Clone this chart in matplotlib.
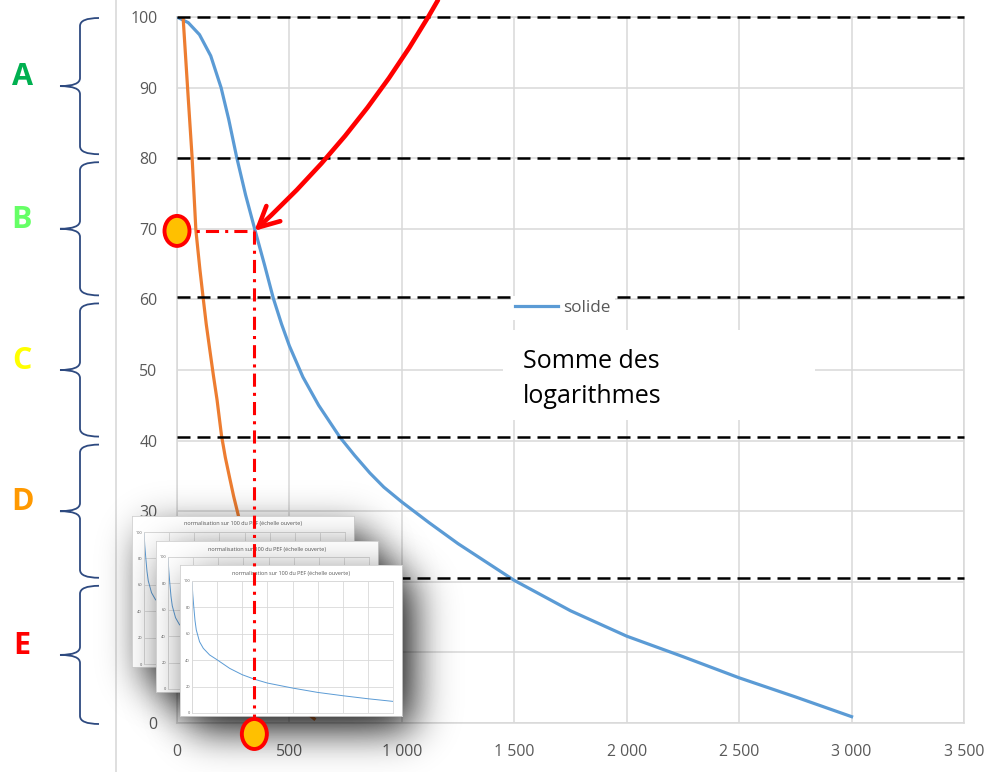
import numpy as np
import matplotlib
matplotlib.use("Agg")
import matplotlib.pyplot as plt
from matplotlib.patches import Rectangle, Ellipse, PathPatch
from matplotlib.path import Path
from matplotlib.lines import Line2D

plt.rcParams['font.family'] = ['Open Sans', 'DejaVu Sans']

# ---------------- data ----------------
x_ticks = [0, 500, 1000, 1500, 2000, 2500, 3000, 3500]
x_tick_labels = ["0", "500", "1 000", "1 500", "2 000", "2 500", "3 000", "3 500"]
y_ticks = [0, 10, 20, 30, 40, 50, 60, 70, 80, 90, 100]

solide_x = [0, 50, 100, 150, 196, 230, 265, 305, 347, 390, 428, 465, 500, 560, 630, 724,
            790, 858, 920, 1000, 1120, 1250, 1500, 1750, 2000, 2250, 2500, 2750, 3000]
solide_y = [100, 99.2, 97.5, 94.5, 90, 85.5, 80.2, 74.8, 69.8, 64.8, 60.2, 56.5, 53.4, 49.0,
            45.0, 40.5, 37.9, 35.4, 33.4, 31.3, 28.4, 25.4, 20.2, 15.9, 12.3, 9.4, 6.4, 3.7, 0.9]

second_x = [27, 50, 67, 84, 102, 116, 130, 147, 162, 178, 198, 215, 235, 252, 272, 320,
            380, 450, 520, 560, 610]
second_y = [100, 88.5, 80.2, 69.8, 64.2, 60.3, 56.5, 52.6, 49.2, 45.8, 40.7, 37.6, 34.6,
            32.1, 29.5, 22.5, 15.5, 8.8, 4.2, 1.9, 0.6]

threshold_lines = [100, 80, 60.4, 40.45, 20.6]
zone_bounds = [100, 80, 60, 40, 20, 0]
zone_labels = ["A", "B", "C", "D", "E"]
zone_colors = ["#00B050", "#66FF66", "#FFFF00", "#FF9900", "#FF0000"]

read_x = 344
read_y = 69.7

inset_x = [0, 0.03, 0.07, 0.12, 0.17, 0.3, 0.45, 0.7, 1, 1.5, 2, 2.5, 3, 4, 5, 6, 7, 8]
inset_y = [100, 90, 80.6, 70, 63, 54, 49, 44, 40.3, 33.8, 29, 25.5, 22.7, 18.9, 15.6, 13.1,
           10.8, 8.8]
inset_title = "normalisation sur 100 du PEF (échelle ouverte)"

legend_label = "solide"
box_lines = ["Somme des", "logarithmes"]

# ---------------- layout ----------------
W, H = 989, 772
fig = plt.figure(figsize=(W / 100, H / 100), dpi=100)
fig.patch.set_facecolor("white")

def fx(px):
    return px / W

def fy(py):
    return 1 - py / H

AX_L, AX_R, AX_T, AX_B = 177, 964, 17, 723
XMAX, YMAX = 3500, 100
def ypx(v):
    return AX_B - v * (AX_B - AX_T) / YMAX
def dx_from_px(p):
    return p * XMAX / (AX_R - AX_L)
def dy_from_px(p):
    return p * YMAX / (AX_B - AX_T)

BLUE = "#5B9BD5"
ORANGE = "#ED7D31"
GRID = "#D9D9D9"
TXT = "#595959"
RED = "#FF0000"

ax = fig.add_axes([fx(AX_L), fy(AX_B), (AX_R - AX_L) / W, (AX_B - AX_T) / H])
ax.set_xlim(0, XMAX)
ax.set_ylim(0, YMAX)
ax.set_xticks(x_ticks)
ax.set_xticklabels(x_tick_labels)
ax.set_yticks(y_ticks)
ax.grid(True, color=GRID, lw=1.1)
ax.set_axisbelow(True)
for s in ax.spines.values():
    s.set_color(GRID)
    s.set_linewidth(1.1)
ax.tick_params(length=0, labelsize=11.4, labelcolor=TXT)
ax.tick_params(axis="y", pad=14)
ax.tick_params(axis="x", pad=15)

l_solide, = ax.plot(solide_x, solide_y, color=BLUE, lw=2.3, zorder=3)
ax.plot(second_x, second_y, color=ORANGE, lw=2.3, zorder=4)

for t in threshold_lines:
    ax.axhline(t, color="black", lw=1.8, dashes=(5.2, 2.8), zorder=5, clip_on=False)

ax.legend([l_solide], [legend_label], loc="center left",
          bbox_to_anchor=(fx(511), fy(308)), bbox_transform=fig.transFigure,
          frameon=True, fancybox=False, facecolor="white", edgecolor="none",
          framealpha=1, borderpad=0.25, borderaxespad=0, handlelength=2.5,
          handletextpad=0.3, fontsize=12.3, labelcolor=TXT)

# white text box
bx0, bx1 = dx_from_px(503 - AX_L), dx_from_px(815 - AX_L)
by0, by1 = dy_from_px(AX_B - 420), dy_from_px(AX_B - 330)
ax.add_patch(Rectangle((bx0, by0), bx1 - bx0, by1 - by0, facecolor="white",
                       edgecolor="none", zorder=2.5))
tx = dx_from_px(523 - AX_L)
for i, line in enumerate(box_lines):
    base_py = 368 + i * 34.7
    ax.text(tx, dy_from_px(AX_B - base_py), line, fontsize=18, color="black",
            va="baseline", ha="left", zorder=6)

# ---------------- decorations (braces, letters, outer border) ----------------
deco = fig.add_axes([0, 0, 1, 1], zorder=-1)
deco.set_xlim(0, W)
deco.set_ylim(H, 0)
deco.axis("off")
deco.add_line(Line2D([116, 116], [0, H], color=GRID, lw=1.2))

def brace(y0, y1, x_end=99, x_v=80, x_tip=60, r=8):
    ym = (y0 + y1) / 2
    verts = [(x_end, y0), (x_v, y0), (x_v, y0 + r),
             (x_v, ym - r), (x_v, ym), (x_tip, ym),
             (x_v, ym), (x_v, ym + r),
             (x_v, y1 - r), (x_v, y1), (x_end, y1)]
    codes = [Path.MOVETO, Path.CURVE3, Path.CURVE3,
             Path.LINETO, Path.CURVE3, Path.CURVE3,
             Path.CURVE3, Path.CURVE3,
             Path.LINETO, Path.CURVE3, Path.CURVE3]
    deco.add_patch(PathPatch(Path(verts, codes), facecolor="none",
                             edgecolor="#2E4A80", lw=1.3))
    return ym

for i, lab in enumerate(zone_labels):
    top = ypx(zone_bounds[i]) + (1 if i == 0 else 4)
    bot = ypx(zone_bounds[i + 1]) + (1 if i == len(zone_labels) - 1 else -4)
    ym = brace(top, bot)
    deco.text(22, ym - 9, lab, color=zone_colors[i], fontsize=22, fontweight="bold",
              ha="center", va="center")

# ---------------- insets with soft shadows ----------------
IN_W, IN_H = 222, 151
inset_origins = [(132, 516), (156, 541), (180, 565)]

def gauss_mat(n, sigma):
    idx = np.arange(n)
    K = np.exp(-0.5 * ((idx[:, None] - idx[None, :]) / sigma) ** 2)
    return K / (sigma * np.sqrt(2 * np.pi))

SH_OFF = (12, 15)
SH_SIG = 20
SH_A = 0.78
zbase = 5
for k, (l, t) in enumerate(inset_origins):
    r, b = l + IN_W, t + IN_H
    X0, X1 = l - 80, r + 110
    Y0, Y1 = t - 80, b + 110
    nx, ny = X1 - X0, Y1 - Y0
    xs = np.arange(X0, X1) + 0.5
    ys = np.arange(Y0, Y1) + 0.5
    mx = ((xs >= l + SH_OFF[0]) & (xs < r + SH_OFF[0])).astype(float)
    my = ((ys >= t + SH_OFF[1]) & (ys < b + SH_OFF[1])).astype(float)
    mask = np.outer(my, mx)
    blur = gauss_mat(ny, SH_SIG) @ mask @ gauss_mat(nx, SH_SIG).T
    img = np.zeros((ny, nx, 4))
    img[..., 3] = np.clip(SH_A * blur, 0, 1)
    sax = fig.add_axes([0, 0, 1, 1], zorder=zbase + 3 * k)
    sax.imshow(img, extent=(X0, X1, Y1, Y0), aspect="auto", interpolation="bilinear")
    sax.set_xlim(0, W)
    sax.set_ylim(H, 0)
    sax.axis("off")

    frame = fig.add_axes([fx(l), fy(b), IN_W / W, IN_H / H], zorder=zbase + 3 * k + 1)
    frame.set_facecolor("white")
    frame.set_xticks([])
    frame.set_yticks([])
    for s in frame.spines.values():
        s.set_color("#D0D0D0")
        s.set_linewidth(0.6)
    frame.text(0.5, 1 - 8 / IN_H, inset_title, transform=frame.transAxes,
               ha="center", va="center", fontsize=4, color=TXT)

    pl, pr, pt, pb = l + 12, r - 9, t + 16, b - 3
    inner = fig.add_axes([fx(pl), fy(pb), (pr - pl) / W, (pb - pt) / H],
                         zorder=zbase + 3 * k + 2)
    inner.set_facecolor("white")
    inner.plot(inset_x, inset_y, color=BLUE, lw=0.7)
    inner.set_xlim(0, 8)
    inner.set_ylim(0, 100)
    inner.set_xticks(range(9))
    inner.set_yticks(range(0, 101, 20))
    inner.set_xticklabels([])
    inner.grid(True, color=GRID, lw=0.6)
    inner.set_axisbelow(True)
    for s in inner.spines.values():
        s.set_color(GRID)
        s.set_linewidth(0.6)
    inner.tick_params(length=0, labelsize=2.8, labelcolor=TXT, pad=1.5)

# ---------------- red reading annotation (top layer) ----------------
ov = fig.add_axes(ax.get_position(), zorder=30)
ov.set_xlim(0, XMAX)
ov.set_ylim(0, YMAX)
ov.axis("off")

m2_y = -dy_from_px(11)
ov.plot([0, read_x], [read_y, read_y], color=RED, lw=2.2, dashes=(4.3, 2, 1, 2),
        clip_on=False, zorder=1)
ov.plot([read_x, read_x], [read_y, m2_y], color=RED, lw=2.2, dashes=(4.3, 2, 1, 2),
        clip_on=False, zorder=1)
for (cx, cy) in [(0, read_y), (read_x, m2_y)]:
    ov.add_patch(Ellipse((cx, cy), dx_from_px(25), dy_from_px(30), facecolor="#FFC000",
                         edgecolor=RED, lw=2.8, clip_on=False, zorder=3))

arrow_start = (dx_from_px(438 - AX_L), dy_from_px(AX_B - 0))
ov.annotate("", xy=(read_x, read_y), xytext=arrow_start, xycoords="data",
            textcoords="data", annotation_clip=False,
            arrowprops=dict(arrowstyle="->,head_length=0.4,head_width=0.2",
                            color=RED, lw=3.3, mutation_scale=37,
                            connectionstyle="arc3,rad=-0.08", shrinkA=0, shrinkB=0))

fig.savefig("out.png", dpi=100, facecolor="white")
